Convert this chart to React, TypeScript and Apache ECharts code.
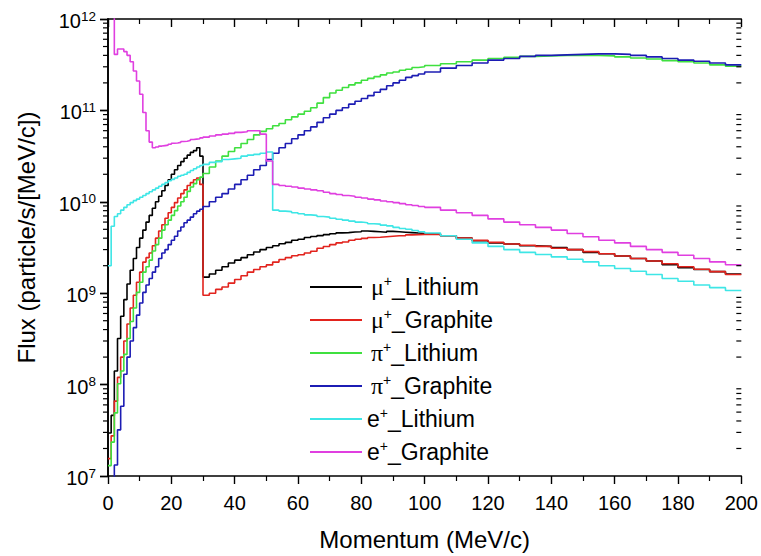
import React, { useEffect, useRef } from 'react';
import * as echarts from 'echarts';

// Histogram bin starts (MeV/c): 1 MeV bins to 30, 2 MeV bins to 100, 5 MeV bins to 200
const BIN_STARTS = [
  0, 1, 2, 3, 4, 5, 6, 7, 8, 9, 10, 11, 12, 13, 14, 15, 16, 17, 18, 19, 20, 21, 22, 23, 24, 25, 26, 27, 28, 29,
  30, 32, 34, 36, 38, 40, 42, 44, 46, 48, 50, 52, 54, 56, 58, 60, 62, 64, 66, 68, 70, 72, 74, 76, 78, 80, 82, 84, 86, 88, 90, 92, 94, 96, 98,
  100, 105, 110, 115, 120, 125, 130, 135, 140, 145, 150, 155, 160, 165, 170, 175, 180, 185, 190, 195,
];
const X_END = 200;

const MU_LITHIUM = [
  2.95e7, 4.6e7, 1.41e8, 3.2e8, 5.6e8, 8.5e8, 1.26e9, 1.78e9, 2.4e9, 3.16e9, 4.0e9, 4.9e9, 6.0e9, 7.1e9, 8.5e9, 1.0e10, 1.15e10, 1.32e10, 1.51e10, 1.74e10, 2.0e10, 2.24e10, 2.5e10, 2.75e10, 3.0e10, 3.24e10, 3.47e10, 3.63e10, 3.9e10, 3.16e10,
  1.5e9, 1.62e9, 1.78e9, 1.95e9, 2.14e9, 2.3e9, 2.45e9, 2.63e9, 2.82e9, 3.0e9, 3.16e9, 3.3e9, 3.47e9, 3.6e9, 3.8e9, 3.9e9, 4.07e9, 4.17e9, 4.27e9, 4.37e9, 4.47e9, 4.57e9, 4.6e9, 4.68e9, 4.7e9, 4.8e9, 4.75e9, 4.7e9, 4.65e9, 4.75e9, 4.7e9, 4.65e9, 4.6e9, 4.55e9, 4.5e9,
  4.45e9, 4.25e9, 4.0e9, 3.75e9, 3.55e9, 3.45e9, 3.3e9, 3.25e9, 3.15e9, 3.0e9, 2.8e9, 2.7e9, 2.55e9, 2.4e9, 2.25e9, 2.05e9, 1.9e9, 1.82e9, 1.72e9, 1.62e9,
];
const MU_GRAPHITE = [
  1.55e7, 2.75e7, 6.6e7, 1.2e8, 2.0e8, 3.0e8, 4.6e8, 6.9e8, 9.5e8, 1.32e9, 1.7e9, 2.19e9, 2.45e9, 2.75e9, 3.3e9, 4.0e9, 4.8e9, 5.6e9, 6.6e9, 7.6e9, 8.7e9, 9.8e9, 1.1e10, 1.23e10, 1.35e10, 1.51e10, 1.62e10, 1.74e10, 1.82e10, 1.55e10,
  9.5e8, 1.0e9, 1.1e9, 1.17e9, 1.29e9, 1.41e9, 1.55e9, 1.7e9, 1.82e9, 1.95e9, 2.04e9, 2.19e9, 2.34e9, 2.45e9, 2.57e9, 2.63e9, 2.75e9, 2.88e9, 3.1e9, 3.24e9, 3.4e9, 3.55e9, 3.63e9, 3.8e9, 3.9e9, 3.98e9, 4.07e9, 4.1e9, 4.15e9, 4.2e9, 4.25e9, 4.27e9, 4.35e9, 4.37e9, 4.4e9,
  4.4e9, 4.25e9, 4.0e9, 3.8e9, 3.6e9, 3.45e9, 3.35e9, 3.25e9, 3.1e9, 3.0e9, 2.85e9, 2.7e9, 2.55e9, 2.4e9, 2.25e9, 2.1e9, 1.95e9, 1.83e9, 1.72e9, 1.6e9,
];
const PI_LITHIUM = [
  1.3e7, 2.35e7, 4.9e7, 1.02e8, 1.41e8, 2.14e8, 3.2e8, 4.9e8, 6.9e8, 1.02e9, 1.32e9, 1.7e9, 1.95e9, 2.3e9, 2.9e9, 3.4e9, 4.0e9, 4.9e9, 5.6e9, 6.3e9, 7.1e9, 8.0e9, 9.0e9, 1.0e10, 1.12e10, 1.3e10, 1.45e10, 1.58e10, 1.74e10, 1.86e10,
  2.04e10, 2.4e10, 2.8e10, 3.16e10, 3.55e10, 3.9e10, 4.35e10, 4.8e10, 5.4e10, 5.9e10, 6.3e10, 6.8e10, 7.2e10, 7.9e10, 8.5e10, 9.1e10, 9.8e10, 1.07e11, 1.2e11, 1.38e11, 1.55e11, 1.66e11, 1.78e11, 1.9e11, 2.0e11, 2.14e11, 2.24e11, 2.34e11, 2.45e11, 2.57e11, 2.63e11, 2.75e11, 2.82e11, 2.95e11, 3.0e11,
  3.1e11, 3.24e11, 3.4e11, 3.55e11, 3.7e11, 3.8e11, 3.9e11, 3.95e11, 4.0e11, 4.0e11, 4.0e11, 3.95e11, 3.85e11, 3.75e11, 3.65e11, 3.5e11, 3.4e11, 3.3e11, 3.15e11, 3.05e11,
];
const PI_GRAPHITE = [
  4e6, 4e6, 1.32e7, 3.2e7, 5.8e7, 1.3e8, 2.0e8, 3.0e8, 4.2e8, 5.75e8, 7.8e8, 1.02e9, 1.23e9, 1.45e9, 1.7e9, 1.95e9, 2.4e9, 2.75e9, 3.0e9, 3.4e9, 3.8e9, 4.2e9, 4.8e9, 5.3e9, 5.9e9, 6.3e9, 6.8e9, 7.4e9, 7.9e9, 8.3e9,
  8.9e9, 1.0e10, 1.12e10, 1.23e10, 1.38e10, 1.55e10, 1.74e10, 1.95e10, 2.24e10, 2.5e10, 2.9e10, 3.4e10, 3.9e10, 4.35e10, 4.9e10, 5.4e10, 6.0e10, 6.6e10, 7.4e10, 8.3e10, 9.1e10, 1.0e11, 1.07e11, 1.17e11, 1.26e11, 1.35e11, 1.45e11, 1.58e11, 1.7e11, 1.86e11, 2.0e11, 2.14e11, 2.3e11, 2.4e11, 2.5e11,
  2.63e11, 2.9e11, 3.1e11, 3.3e11, 3.55e11, 3.7e11, 3.9e11, 4.0e11, 4.05e11, 4.1e11, 4.15e11, 4.15e11, 4.1e11, 4.0e11, 3.85e11, 3.7e11, 3.55e11, 3.45e11, 3.3e11, 3.15e11,
];
const E_LITHIUM = [
  2.0e9, 5.4e9, 6.9e9, 7.4e9, 8.1e9, 8.7e9, 9.3e9, 9.8e9, 1.03e10, 1.07e10, 1.12e10, 1.17e10, 1.23e10, 1.29e10, 1.35e10, 1.41e10, 1.48e10, 1.55e10, 1.62e10, 1.7e10, 1.76e10, 1.82e10, 1.9e10, 1.95e10, 2.0e10, 2.1e10, 2.2e10, 2.3e10, 2.4e10, 2.5e10,
  2.57e10, 2.7e10, 2.75e10, 2.9e10, 2.95e10, 3.0e10, 3.16e10, 3.24e10, 3.3e10, 3.4e10, 3.5e10, 8.1e9, 7.9e9, 7.8e9, 7.6e9, 7.4e9, 7.2e9, 7.1e9, 6.9e9, 6.8e9, 6.6e9, 6.45e9, 6.3e9, 6.15e9, 6.0e9, 5.9e9, 5.75e9, 5.7e9, 5.55e9, 5.45e9, 5.25e9, 5.1e9, 5.0e9, 4.85e9, 4.7e9,
  4.55e9, 4.25e9, 3.9e9, 3.55e9, 3.25e9, 3.0e9, 2.8e9, 2.65e9, 2.5e9, 2.35e9, 2.2e9, 2.0e9, 1.86e9, 1.74e9, 1.6e9, 1.45e9, 1.35e9, 1.23e9, 1.15e9, 1.07e9,
];
const E_GRAPHITE = [
  2.0e12, 2.0e12, 4.1e11, 4.7e11, 4.7e11, 4.4e11, 4.0e11, 3.4e11, 2.7e11, 2.1e11, 1.5e11, 9.5e10, 6.0e10, 4.5e10, 3.9e10, 3.98e10, 4.07e10, 4.12e10, 4.17e10, 4.27e10, 4.37e10, 4.4e10, 4.47e10, 4.57e10, 4.6e10, 4.68e10, 4.8e10, 4.85e10, 4.9e10, 5.0e10,
  5.1e10, 5.25e10, 5.4e10, 5.5e10, 5.6e10, 5.75e10, 5.85e10, 6.0e10, 6.0e10, 5.5e10, 2.8e10, 1.55e10, 1.51e10, 1.48e10, 1.45e10, 1.41e10, 1.38e10, 1.35e10, 1.32e10, 1.27e10, 1.23e10, 1.2e10, 1.17e10, 1.15e10, 1.12e10, 1.1e10, 1.07e10, 1.05e10, 1.02e10, 1.0e10, 9.8e9, 9.55e9, 9.3e9, 9.1e9, 8.9e9,
  8.7e9, 8.1e9, 7.6e9, 7.1e9, 6.5e9, 6.0e9, 5.6e9, 5.25e9, 4.9e9, 4.5e9, 4.15e9, 3.8e9, 3.55e9, 3.25e9, 3.0e9, 2.8e9, 2.6e9, 2.4e9, 2.2e9, 2.05e9,
];

const SERIES_NAMES = ['μ+_Lithium', 'μ+_Graphite', 'π+_Lithium', 'π+_Graphite', 'e+_Lithium', 'e+_Graphite'];
const SERIES_VALUES = [MU_LITHIUM, MU_GRAPHITE, PI_LITHIUM, PI_GRAPHITE, E_LITHIUM, E_GRAPHITE];
const SERIES_COLORS = ['#000000', '#e2231d', '#3fe03f', '#1c1cb4', '#3ee6e6', '#e03fe0'];

const X_MIN = 0;
const X_MAX = 200;
const X_INTERVAL = 20;
const Y_MIN = 1e7;
const Y_MAX = 1e12;
const MINOR_DECADES = [7, 8, 9, 10, 11];
const MINOR_MULTIPLIERS = [2, 3, 4, 5, 6, 7, 8, 9];

const FONT = '"Liberation Sans", Arial, Helvetica, sans-serif';
const GREEK_FONT = '"Liberation Serif", "Times New Roman", serif';

export default function App() {
  const ref = useRef<HTMLDivElement>(null);

  useEffect(() => {
    const chart = echarts.init(ref.current!, null, { renderer: 'svg' });

    const lineSeries = SERIES_NAMES.map((name, i) => {
      const vals = SERIES_VALUES[i];
      const data = BIN_STARTS.map((x, j) => [x, vals[j]]);
      data.push([X_END, vals[vals.length - 1]]);
      return {
        name,
        type: 'line',
        step: 'end',
        symbol: 'none',
        showSymbol: false,
        clip: true,
        xAxisIndex: 0,
        yAxisIndex: 0,
        data,
        lineStyle: { width: 1.6, color: SERIES_COLORS[i] },
        itemStyle: { color: SERIES_COLORS[i] },
        z: 2 + i,
      };
    });

    const minorTickValues: number[][] = [];
    MINOR_DECADES.forEach((d) => MINOR_MULTIPLIERS.forEach((m) => minorTickValues.push([X_MIN, m * Math.pow(10, d)])));

    const minorTickSeries = {
      type: 'custom',
      silent: true,
      xAxisIndex: 0,
      yAxisIndex: 0,
      clip: false,
      z: 10,
      data: minorTickValues,
      renderItem: (_params: any, api: any) => {
        const v = api.value(1);
        const l = api.coord([X_MIN, v]);
        const r = api.coord([X_MAX, v]);
        return {
          type: 'group',
          children: [
            { type: 'line', shape: { x1: l[0] - 5, y1: l[1], x2: l[0], y2: l[1] }, style: { stroke: '#000', lineWidth: 1.2 } },
            { type: 'line', shape: { x1: r[0] - 5, y1: r[1], x2: r[0], y2: r[1] }, style: { stroke: '#000', lineWidth: 1.2 } },
          ],
        };
      },
    };

    const axisLine = { show: true, lineStyle: { color: '#000', width: 1.6 } };

    const legendFormatter = (name: string) => {
      const p = name.charAt(0);
      const rest = name.slice(2);
      const head = p === 'e' ? `{n|e}` : `{g|${p}}`;
      return `${head}{s|+}{n|${rest}}`;
    };

    const option: any = {
      animation: false,
      backgroundColor: '#ffffff',
      grid: { left: 108, right: 16, top: 19, bottom: 72, containLabel: false },
      legend: {
        orient: 'vertical',
        left: 310,
        top: 274,
        padding: 0,
        itemGap: 7,
        itemWidth: 52,
        itemHeight: 2,
        icon: 'rect',
        data: SERIES_NAMES,
        formatter: legendFormatter,
        textStyle: {
          color: '#000',
          fontFamily: FONT,
          fontSize: 23,
          lineHeight: 26,
          rich: {
            n: { fontFamily: FONT, fontSize: 23, lineHeight: 26, color: '#000' },
            g: { fontFamily: GREEK_FONT, fontSize: 24, lineHeight: 26, color: '#000', padding: [0, 0, 0, 4] },
            s: { fontFamily: FONT, fontSize: 14, lineHeight: 8, verticalAlign: 'top', color: '#000' },
          },
        },
      },
      xAxis: [
        {
          type: 'value',
          position: 'bottom',
          min: X_MIN,
          max: X_MAX,
          interval: X_INTERVAL,
          name: 'Momentum (MeV/c)',
          nameLocation: 'middle',
          nameGap: 51,
          nameTextStyle: { fontFamily: FONT, fontSize: 24, color: '#000' },
          axisLine,
          axisTick: { show: true, inside: false, length: 8, lineStyle: { color: '#000', width: 1.4 } },
          minorTick: { show: true, splitNumber: 2, length: 5, lineStyle: { color: '#000', width: 1.2 } },
          axisLabel: { fontFamily: FONT, fontSize: 20, color: '#000', margin: 17 },
          splitLine: { show: false },
          minorSplitLine: { show: false },
        },
        {
          type: 'value',
          position: 'top',
          min: X_MIN,
          max: X_MAX,
          interval: X_INTERVAL,
          axisLine,
          axisTick: { show: true, inside: true, length: 8, lineStyle: { color: '#000', width: 1.4 } },
          minorTick: { show: true, splitNumber: 2, length: 5, lineStyle: { color: '#000', width: 1.2 } },
          axisLabel: { show: false },
          splitLine: { show: false },
        },
      ],
      yAxis: [
        {
          type: 'log',
          logBase: 10,
          position: 'left',
          min: Y_MIN,
          max: Y_MAX,
          name: 'Flux (particle/s/[MeV/c])',
          nameLocation: 'middle',
          nameGap: 70,
          nameTextStyle: { fontFamily: FONT, fontSize: 24, color: '#000', padding: [0, 0, 0, 20] },
          axisLine,
          axisTick: { show: true, inside: false, length: 8, lineStyle: { color: '#000', width: 1.4 } },
          axisLabel: {
            margin: 12,
            formatter: (v: number) => `{b|10}{s|${Math.round(Math.log10(v))}}`,
            rich: {
              b: { fontFamily: FONT, fontSize: 20, lineHeight: 20, color: '#000', padding: [4, 0, 0, 0] },
              s: { fontFamily: FONT, fontSize: 13.5, lineHeight: 9, verticalAlign: 'top', color: '#000' },
            },
          },
          splitLine: { show: false },
        },
        {
          type: 'log',
          logBase: 10,
          position: 'right',
          min: Y_MIN,
          max: Y_MAX,
          axisLine,
          axisTick: { show: true, inside: true, length: 8, lineStyle: { color: '#000', width: 1.4 } },
          axisLabel: { show: false },
          splitLine: { show: false },
        },
      ],
      series: [...lineSeries, minorTickSeries],
    };

    chart.setOption(option);
    return () => chart.dispose();
  }, []);

  return (
    <div
      ref={ref}
      style={{ position: 'fixed', left: 0, top: 0, width: 761, height: 556, background: '#fff' }}
    />
  );
}
